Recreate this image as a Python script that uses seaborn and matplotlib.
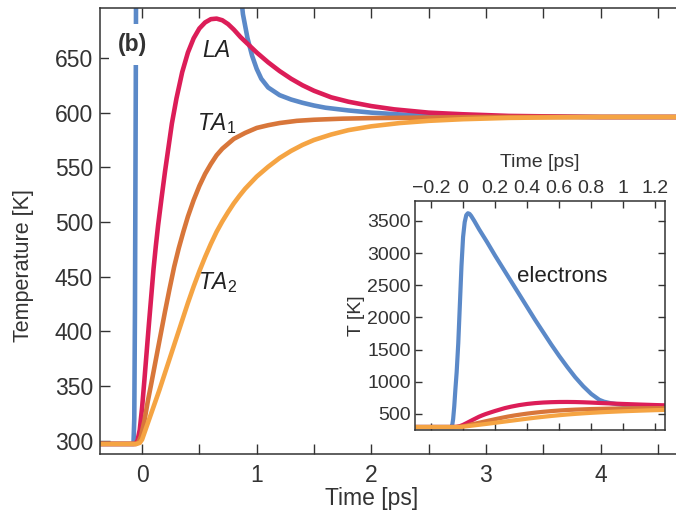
import numpy as np
import pandas as pd
import matplotlib
matplotlib.use("Agg")
import matplotlib.pyplot as plt
from matplotlib.ticker import MultipleLocator
import seaborn as sns

# ---- data ----
t_el = [-0.40, -0.075, -0.068, -0.062, -0.055, -0.048, -0.040, -0.030, -0.020, -0.010,
        0.000, 0.010, 0.020, 0.030, 0.040, 0.050, 0.070, 0.10, 0.15, 0.20, 0.25,
        0.30, 0.35, 0.40, 0.45, 0.50, 0.55, 0.60, 0.65, 0.70, 0.75, 0.80, 0.85,
        0.88, 0.92, 0.96, 1.00, 1.04, 1.10, 1.20, 1.30, 1.40, 1.50, 1.60, 1.80,
        2.00, 2.30, 2.60, 3.00, 4.00, 4.80]
T_el = [297, 297, 320, 420, 620, 880, 1150, 1600, 2200, 2800,
        3250, 3480, 3590, 3620, 3610, 3580, 3500, 3370, 3170, 2960, 2760,
        2560, 2360, 2160, 1960, 1770, 1580, 1400, 1230, 1070, 930, 810, 720,
        690, 668, 652, 640, 631, 623, 616, 612, 609, 606.5, 604.5, 602,
        600, 598, 597, 596.5, 596, 596]

t_la = [-0.40, -0.06, -0.04, -0.02, 0.00, 0.02, 0.04, 0.06, 0.08, 0.10, 0.12, 0.14,
        0.17, 0.20, 0.23, 0.26, 0.30, 0.35, 0.40, 0.45, 0.50, 0.55, 0.60, 0.65,
        0.70, 0.75, 0.80, 0.86, 0.93, 1.00, 1.10, 1.20, 1.30, 1.40, 1.50, 1.65,
        1.80, 2.00, 2.20, 2.50, 2.80, 3.20, 3.60, 4.00, 4.80]
T_la = [297, 297, 300, 310, 330, 355, 381, 407, 432, 457, 478, 497,
        522, 546, 568, 590, 613, 637, 655, 668, 677, 682.5, 685.5, 686,
        684.5, 681, 676, 669, 662, 655, 646, 638, 631, 625, 620, 614,
        610, 606, 603, 600, 598.5, 597, 596.5, 596, 596]

t_ta1 = [-0.40, -0.05, -0.03, -0.01, 0.02, 0.05, 0.08, 0.12, 0.16, 0.20, 0.24, 0.28,
         0.32, 0.36, 0.40, 0.45, 0.50, 0.55, 0.60, 0.65, 0.70, 0.80, 0.90, 1.00,
         1.10, 1.20, 1.35, 1.50, 1.75, 2.00, 2.50, 3.00, 4.80]
T_ta1 = [297, 297, 299, 304, 318, 336, 352, 374, 396, 418, 439, 459,
         476, 491, 505, 520, 533, 544, 553, 561, 567, 576, 581.5, 586,
         588.5, 590.5, 592.5, 593.5, 594.5, 595, 595.5, 596, 596]

t_ta2 = [-0.40, -0.05, -0.02, 0.00, 0.03, 0.07, 0.11, 0.15, 0.20, 0.25, 0.30, 0.35,
         0.40, 0.45, 0.50, 0.55, 0.60, 0.65, 0.70, 0.75, 0.80, 0.85, 0.90, 0.95,
         1.00, 1.10, 1.20, 1.30, 1.40, 1.50, 1.65, 1.80, 2.00, 2.25, 2.50, 2.80,
         3.20, 3.60, 4.00, 4.80]
T_ta2 = [297, 297, 298, 301, 310, 322, 334, 346, 362, 378, 394, 410,
         426, 441, 455, 468, 480, 491, 500.5, 509, 517, 524, 530.5, 536,
         541.5, 550.5, 558.5, 565, 570.5, 575, 580, 584, 587.5, 590.5, 592.5, 594,
         595.2, 595.7, 596, 596]

series = [("electrons", t_el, T_el, "#5b89c8"),
          ("LA", t_la, T_la, "#dc1d58"),
          ("TA1", t_ta1, T_ta1, "#d8763a"),
          ("TA2", t_ta2, T_ta2, "#f5a443")]

main_xticks = [0, 1, 2, 3, 4]
main_yticks = [300, 350, 400, 450, 500, 550, 600, 650]
inset_xticks = [-0.2, 0, 0.2, 0.4, 0.6, 0.8, 1, 1.2]
inset_xticklabels = ["\u22120.2", "0", "0.2", "0.4", "0.6", "0.8", "1", "1.2"]
inset_yticks = [500, 1000, 1500, 2000, 2500, 3000, 3500]

# ---- style ----
sns.set_theme(style="ticks")
plt.rcParams["font.family"] = ["Liberation Sans", "DejaVu Sans"]
plt.rcParams["mathtext.fontset"] = "custom"
plt.rcParams["mathtext.it"] = "Liberation Sans:italic"
plt.rcParams["mathtext.rm"] = "Liberation Sans"
ink = "#333333"

fig = plt.figure(figsize=(6.76, 5.2), dpi=100)
W, H = 676, 520

def axes_px(l, t, r, b):
    return fig.add_axes([l / W, 1 - b / H, (r - l) / W, (b - t) / H])

def draw(axis, lw):
    for name, t, T, c in series:
        df = pd.DataFrame({"t": t, "T": T})
        sns.lineplot(data=df, x="t", y="T", ax=axis, color=c, lw=lw,
                     estimator=None, sort=False, legend=False,
                     solid_joinstyle="round", solid_capstyle="butt")

ax = axes_px(100, 8, 690, 454)
draw(ax, 3.3)

ax.set_xlim(-0.367, 4.78)
ax.set_ylim(287.8, 695.7)
ax.set_xticks(main_xticks)
ax.xaxis.set_minor_locator(MultipleLocator(0.5))
ax.set_yticks(main_yticks)
ax.tick_params(axis="both", which="both", direction="in", colors=ink,
               labelsize=16.5, length=7, width=1.0, top=True, labelcolor=ink)
ax.tick_params(axis="x", pad=7)
ax.tick_params(axis="y", pad=5)
ax.spines["right"].set_visible(False)
for s in ["left", "bottom", "top"]:
    ax.spines[s].set_color(ink)
    ax.spines[s].set_linewidth(1.1)
ax.set_xlabel("")
ax.set_ylabel("")
fig.text(372 / W, 1 - 499 / H, "Time [ps]", fontsize=16.5, color=ink,
         ha="center", va="center")
fig.text(24 / W, 1 - 266 / H, "Temperature [K]", fontsize=15.5, color=ink,
         ha="center", va="center", rotation=90)

ax.text(-0.08, 662, "(b)", fontsize=16.5, fontweight="bold", color=ink,
        ha="center", va="center", zorder=5,
        bbox=dict(facecolor="white", edgecolor="none", pad=6.5))
ax.text(0.52, 657, "$LA$", fontsize=16.5, color="#222222", ha="left", va="center")
ax.text(0.48, 590, "$TA_1$", fontsize=16.5, color="#222222", ha="left", va="center")
ax.text(0.49, 445, "$TA_2$", fontsize=16.5, color="#222222", ha="left", va="center")

# ---- inset ----
ins = axes_px(415, 201, 665, 430)
draw(ins, 3.0)
ins.set_xlim(-0.3, 1.26)
ins.set_ylim(250, 3810)
ins.set_xticks(inset_xticks)
ins.set_xticklabels(inset_xticklabels)
ins.set_yticks(inset_yticks)
ins.xaxis.set_ticks_position("both")
ins.yaxis.set_ticks_position("both")
ins.xaxis.set_label_position("top")
ins.tick_params(axis="both", direction="in", colors=ink, labelcolor=ink,
                labelsize=14, length=5, width=1.0,
                labeltop=True, labelbottom=False)
ins.tick_params(axis="x", pad=3)
ins.tick_params(axis="y", pad=3)
for s in ins.spines.values():
    s.set_color(ink)
    s.set_linewidth(1.1)
ins.set_xlabel("Time [ps]", fontsize=14, color=ink, labelpad=9)
ins.set_ylabel("T [K]", fontsize=14, color=ink, labelpad=2)
ins.text(0.62, 2640, "electrons", fontsize=16, color="#222222",
         ha="center", va="center")

fig.savefig("out.png", dpi=100)
